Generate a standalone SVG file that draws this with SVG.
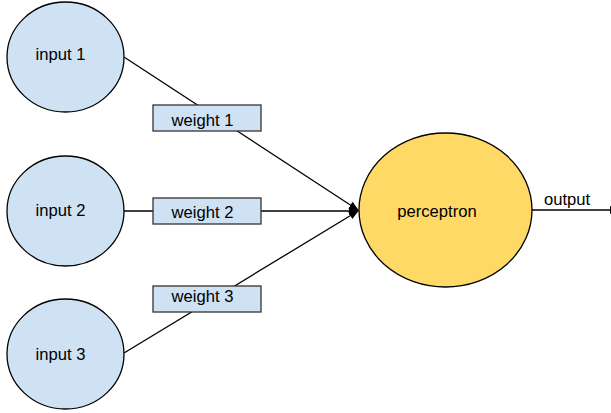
<svg xmlns="http://www.w3.org/2000/svg" width="611" height="413" viewBox="0 0 611 413">
<style>
.in{fill:#cfe2f3;stroke:#000;stroke-width:1.3}
.w{fill:#cfe2f3;stroke:#333;stroke-width:1.3}
.p{fill:#ffd966;stroke:#000;stroke-width:1.3}
.t{font-family:"Liberation Sans",Arial,sans-serif;font-size:16.6px;fill:#000}
.c{stroke:#000;stroke-width:1.3;fill:none}
</style>
<defs>
<marker id="ah" viewBox="0 0 10 10" refX="9" refY="5" markerWidth="10" markerHeight="10" markerUnits="userSpaceOnUse" orient="auto">
<path d="M0,1 L10,5 L0,9 Z" fill="#000"/>
</marker>
</defs>
<g id="connectors">
<line class="c" x1="124" y1="57" x2="358" y2="210" marker-end="url(#ah)"/>
<line class="c" x1="124" y1="211" x2="358" y2="211" marker-end="url(#ah)"/>
<line class="c" x1="124" y1="353" x2="358" y2="211" marker-end="url(#ah)"/>
<line class="c" x1="532" y1="210" x2="619" y2="210" marker-end="url(#ah)"/>
<text class="t" x="544" y="205">output</text>
</g>
<g id="input1"><ellipse class="in" cx="65.5" cy="57" rx="58.5" ry="55"/><text class="t" x="60.5" y="60" text-anchor="middle">input 1</text></g>
<g id="input2"><ellipse class="in" cx="65.5" cy="211" rx="58.5" ry="55"/><text class="t" x="60.5" y="216" text-anchor="middle">input 2</text></g>
<g id="input3"><ellipse class="in" cx="65.5" cy="354" rx="58.5" ry="55"/><text class="t" x="60.5" y="360" text-anchor="middle">input 3</text></g>
<g id="weight1"><rect class="w" x="153" y="105" width="108" height="26"/><text class="t" x="202.5" y="126" text-anchor="middle">weight 1</text></g>
<g id="weight2"><rect class="w" x="153" y="198" width="108" height="26"/><text class="t" x="202.5" y="218" text-anchor="middle">weight 2</text></g>
<g id="weight3"><rect class="w" x="153" y="286" width="108" height="26"/><text class="t" x="202.5" y="302" text-anchor="middle">weight 3</text></g>
<g id="perceptron"><ellipse class="p" cx="445.5" cy="210" rx="86.5" ry="77"/><text class="t" x="437" y="217" text-anchor="middle">perceptron</text></g>
</svg>
